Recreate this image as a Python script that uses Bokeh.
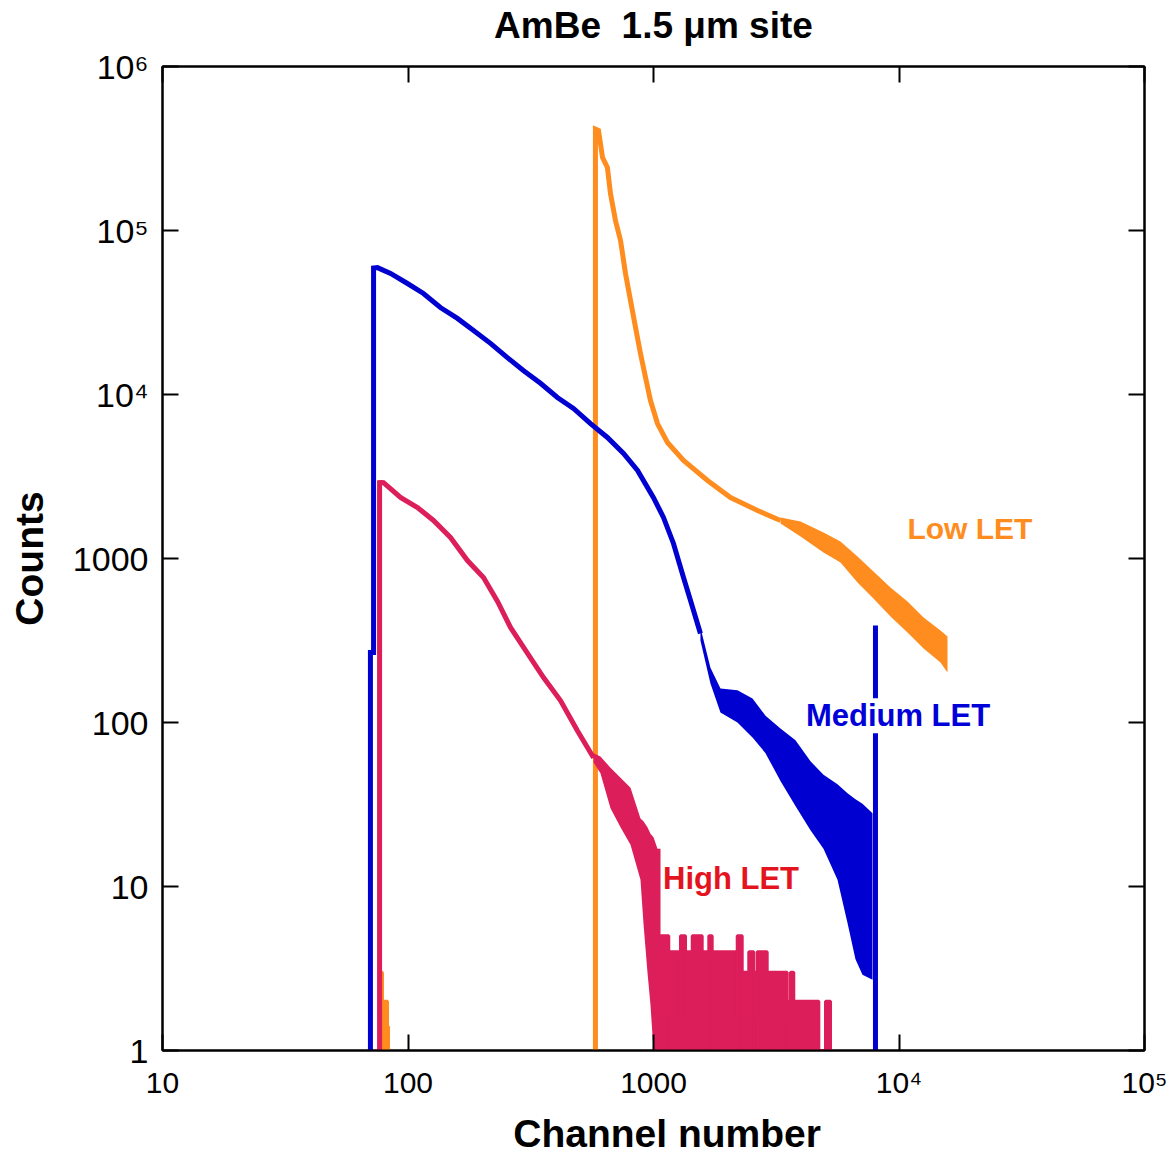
from bokeh.plotting import figure
from bokeh.models import LogAxis, FixedTicker, Label, Range1d
from bokeh.embed import file_html
from bokeh.resources import INLINE

# ---------------- data ----------------
title_text = "AmBe\u00a0 1.5 μm site"
x_ticks = [10, 100, 1000, 10000, 100000]
x_tick_labels = ["10", "100", "1000", "10⁴", "10⁵"]
y_ticks = [1, 10, 100, 1000, 10000, 100000, 1000000]
y_tick_labels = ["1", "10", "100", "1000", "10⁴", "10⁵", "10⁶"]

# Medium LET (blue): smooth part, then noisy band, then end spike
blue_x = [70.3, 70.3, 72.4, 72.4, 75.1, 84.9, 99.5, 115.6, 135.5, 159, 184.9, 216.8,
          254, 295, 346.5, 406, 472, 554, 649, 755, 861, 1000, 1098, 1206, 1325,
          1415, 1553]
blue_y = [1, 267, 267, 59000, 59400, 54700, 47500, 41300, 33900, 29100, 24600, 20500,
          16800, 14000, 11700, 9590, 8220, 6650, 5470, 4370, 3440, 2350, 1780, 1235, 766,
          555, 349]
blue_band_x = [1553, 1706, 1874, 2198, 2531, 2859, 3290, 3787, 4360, 4925, 5617, 6170,
               6648, 7101, 7800]
blue_band_hi = [380, 216, 161, 157, 140, 110, 92, 78, 58, 48, 42, 37, 34, 32, 28]
blue_band_lo = [316, 173, 115, 100, 81, 65, 44, 31, 22, 17, 11, 6, 3.6, 2.9, 2.7]
blue_spike_x = [8020, 8020]
blue_spike_y = [1, 390]

# High LET (red)
red_x = [76.6, 76.6, 78.0, 79.5, 93.2, 109.3, 127, 148.9, 174.7, 203, 231.6, 261.5,
         306.8, 356.5, 418, 490, 570]
red_y = [1, 2900, 2905, 2900, 2355, 2047, 1706, 1343, 972, 766, 547, 380,
         264, 188, 136, 89, 61]
red_band_x = [570, 608, 668, 734, 806, 885, 910, 945, 972, 1000, 1038, 1068]
red_band_hi = [65, 62, 53, 46, 40, 26, 25, 23, 21, 20, 17, 17]
red_band_lo = [57, 49, 30, 23, 18, 11, 6, 3, 1.9, 1, 1, 1]
red_tail_edges = [1068, 1154, 1288, 1350, 1438, 1579, 1680, 1734, 2193, 2298, 2444,
                  2562, 2645, 2905, 3505, 3614, 3727, 4714, 5019, 5261]
red_tail_counts = [5, 4, 5, 4, 5, 4, 5, 4, 5, 3, 4, 3, 4, 3, 2, 3, 2, 1, 2]

# Low LET (orange)
orange_bump_edges = [77.3, 78.7, 82.5, 83.3]
orange_bump_counts = [3, 2, 1.4]
orange_x = [580, 580, 597, 620, 649, 668, 700, 734, 769, 806, 845, 885, 928, 972,
            1038, 1140, 1325, 1660, 2059, 2652, 3290]
orange_y = [1, 415000, 407000, 278700, 242200, 168000, 115000, 86900, 54700, 37400,
            25600, 17780, 12700, 9190, 6650, 5100, 3960, 2990, 2355, 1963, 1706]
orange_band_x = [3290, 3972, 4925, 5776, 6776, 7870, 9234, 10830, 12590, 14760, 15760]
orange_band_hi = [1778, 1681, 1440, 1270, 1029, 833, 666, 547, 437, 364, 335]
orange_band_lo = [1635, 1362, 1088, 945, 714, 570, 443, 354, 283, 232, 202]

BLUE = "#0000d0"
RED = "#dc1e5a"
ORANGE = "#ff8c1e"
FONT = "Liberation Sans"

# ---------------- figure ----------------
p = figure(width=1172, height=1157, x_axis_type="log", y_axis_type="log",
           x_range=Range1d(10, 1e5), y_range=Range1d(1, 1e6),
           output_backend="svg", toolbar_location=None,
           min_border_left=162, min_border_right=28, min_border_top=66,
           min_border_bottom=107)
p.grid.visible = False
p.outline_line_color = "black"
p.outline_line_width = 2
p.background_fill_color = "white"
p.border_fill_color = "white"


def style_axis(ax, ticks, labels, show, size="30px"):
    ax.ticker = FixedTicker(ticks=ticks)
    ax.major_tick_in = 16
    ax.major_tick_out = 0
    ax.minor_tick_in = 0
    ax.minor_tick_out = 0
    ax.major_tick_line_width = 2
    ax.major_tick_line_color = "black"
    ax.axis_line_width = 2
    ax.axis_line_color = "black"
    ax.axis_label_text_font = FONT
    ax.axis_label_text_font_style = "bold"
    ax.axis_label_text_color = "black"
    if show:
        ax.major_label_overrides = {t: l for t, l in zip(ticks, labels)}
        ax.major_label_text_font = FONT
        ax.major_label_text_font_size = size
        ax.major_label_text_color = "black"
        ax.axis_label_text_font_size = "39px"
    else:
        ax.major_label_overrides = {t: " " for t in ticks}
        ax.major_label_text_font_size = "1px"
        ax.major_label_text_alpha = 0
        ax.major_label_standoff = 0


xb = p.xaxis[0]
yl = p.yaxis[0]
style_axis(xb, x_ticks, x_tick_labels, True, "30px")
style_axis(yl, y_ticks, y_tick_labels, True, "34px")
xb.major_label_standoff = 15
xb.axis_label = "\u2002\u2009Channel number"
xb.axis_label_standoff = 10
yl.major_label_standoff = 14
yl.axis_label = "Counts"
yl.axis_label_standoff = 19

ya = LogAxis()
style_axis(ya, y_ticks, y_tick_labels, False)
p.add_layout(ya, "right")
xa = LogAxis()
style_axis(xa, x_ticks, x_tick_labels, False)
# chart title carried by the top axis so that it sits where the reference has it
xa.axis_label = title_text
xa.axis_label_text_font_size = "37px"
xa.axis_label_standoff = 21
p.add_layout(xa, "above")

# ---------------- series ----------------
LW = 5
# orange
p.quad(left=orange_bump_edges[:-1], right=orange_bump_edges[1:], bottom=1,
       top=orange_bump_counts, fill_color=ORANGE, line_color=ORANGE, line_width=3)
p.varea(x=orange_band_x, y1=orange_band_lo, y2=orange_band_hi, fill_color=ORANGE)
p.line(orange_x, orange_y, line_color=ORANGE, line_width=LW, line_join="miter")

# blue
p.varea(x=blue_band_x, y1=blue_band_lo, y2=blue_band_hi, fill_color=BLUE)
p.line(blue_x, blue_y, line_color=BLUE, line_width=LW, line_join="miter")
p.line(blue_spike_x, blue_spike_y, line_color=BLUE, line_width=LW)

# red
p.varea(x=red_band_x, y1=red_band_lo, y2=red_band_hi, fill_color=RED)
p.line(red_x, red_y, line_color=RED, line_width=LW, line_join="miter")
p.quad(left=red_tail_edges[:-1], right=red_tail_edges[1:], bottom=1,
       top=red_tail_counts, fill_color=RED, line_color=RED, line_width=3)

# ---------------- series labels ----------------
for txt, x, y, col, fs in [("Low LET", 19450, 1524, "#ff8c1e", "30px"),
                           ("Medium LET", 9910, 110, "#0000d8", "31px"),
                           ("High LET", 2069, 11.2, "#e4141e", "31px")]:
    p.add_layout(Label(x=x, y=y, text=txt, text_color=col, text_font=FONT,
                       text_font_style="bold", text_font_size=fs,
                       text_align="center", text_baseline="middle",
                       background_fill_color="white"))

open("out.html", "w").write(file_html(p, INLINE))
